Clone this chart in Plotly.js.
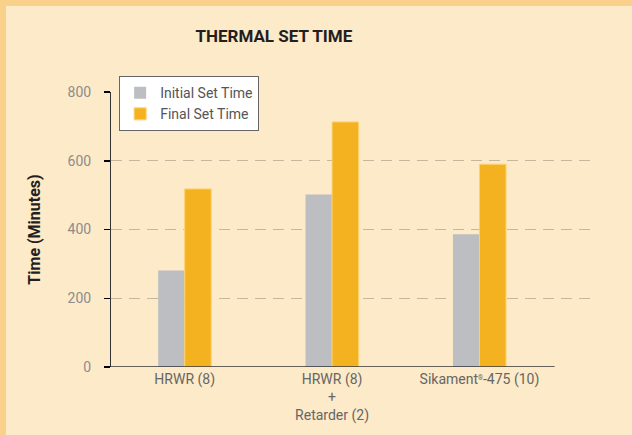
<!DOCTYPE html>
<html>
<head>
<meta charset="utf-8">
<script src="https://cdn.plot.ly/plotly-3.0.1.min.js"></script>
<style>
html,body{margin:0;padding:0;background:#F9D18A;width:632px;height:435px;overflow:hidden;}
#chart{position:absolute;left:6px;top:6px;width:626px;height:429px;}
</style>
</head>
<body>
<div id="chart"></div>
<script>
var categories = ["HRWR (8)", "HRWR (8)<br>+<br>Retarder (2)", "Sikament<span style=\"font-size:9px\"><sup>®</sup></span>-475 (10)"];
var initialSet = [281, 502, 386];
var finalSet = [518, 713, 590];
var yTicks = [0, 200, 400, 600, 800];

var cx = [0, 1, 2];

var traces = [
  {type: "bar", name: "Initial Set Time", x: cx, y: initialSet,
   marker: {color: "#BDBEC1", line: {color: "#BDBEC1", width: 0}}},
  {type: "bar", name: "Final Set Time", x: cx, y: finalSet,
   marker: {color: "#F5B220", line: {color: "#FDD26E", width: 1}}}
];

var font = "Roboto, 'Open Sans', sans-serif";

var layout = {
  width: 626, height: 429,
  margin: {l: 105, r: 42, t: 86, b: 68},
  paper_bgcolor: "#FDEAC8",
  plot_bgcolor: "#FDEAC8",
  barmode: "group",
  bargap: 0.64,
  bargroupgap: 0,
  showlegend: true,
  title: {text: "THERMAL SET TIME", x: 0.34, xref: "paper", xanchor: "center",
          y: 0.93, yref: "container", yanchor: "middle",
          font: {family: font, size: 17, color: "#231F20", weight: 700}},
  legend: {x: 0.017, y: 1.058, xanchor: "left", yanchor: "top",
           bgcolor: "#FFFFFF", bordercolor: "#666666", borderwidth: 1,
           font: {family: font, size: 14, color: "#555555"},
           traceorder: "normal", itemwidth: 30, tracegroupgap: 0},
  xaxis: {range: [-0.5, 2.75], tickmode: "array", tickvals: cx, ticktext: categories,
          showgrid: false, zeroline: false, showline: false, ticks: "",
          ticklabelstandoff: 2,
          tickfont: {family: font, size: 14, color: "#666666"}, fixedrange: true},
  yaxis: {range: [0, 800], tickmode: "array", tickvals: yTicks,
          showline: true, linecolor: "#333333", linewidth: 1,
          ticks: "outside", ticklen: 6, tickcolor: "#000000", tickwidth: 1.5,
          ticklabelstandoff: 10,
          showgrid: true, gridcolor: "#C4B79E", gridwidth: 1, griddash: "11px,7px",
          zeroline: false,
          tickfont: {family: font, size: 14, color: "#8C8C8C"},
          title: {text: "Time (Minutes)", standoff: 22,
                  font: {family: font, size: 16, color: "#231F20", weight: 700}}},
  shapes: [
    {type: "line", xref: "x", yref: "y", x0: -0.5, x1: 2.51, y0: 0, y1: 0,
     line: {color: "#333333", width: 1.3}}
  ]
};

Plotly.newPlot("chart", traces, layout, {displayModeBar: false, staticPlot: true});
</script>
</body>
</html>
